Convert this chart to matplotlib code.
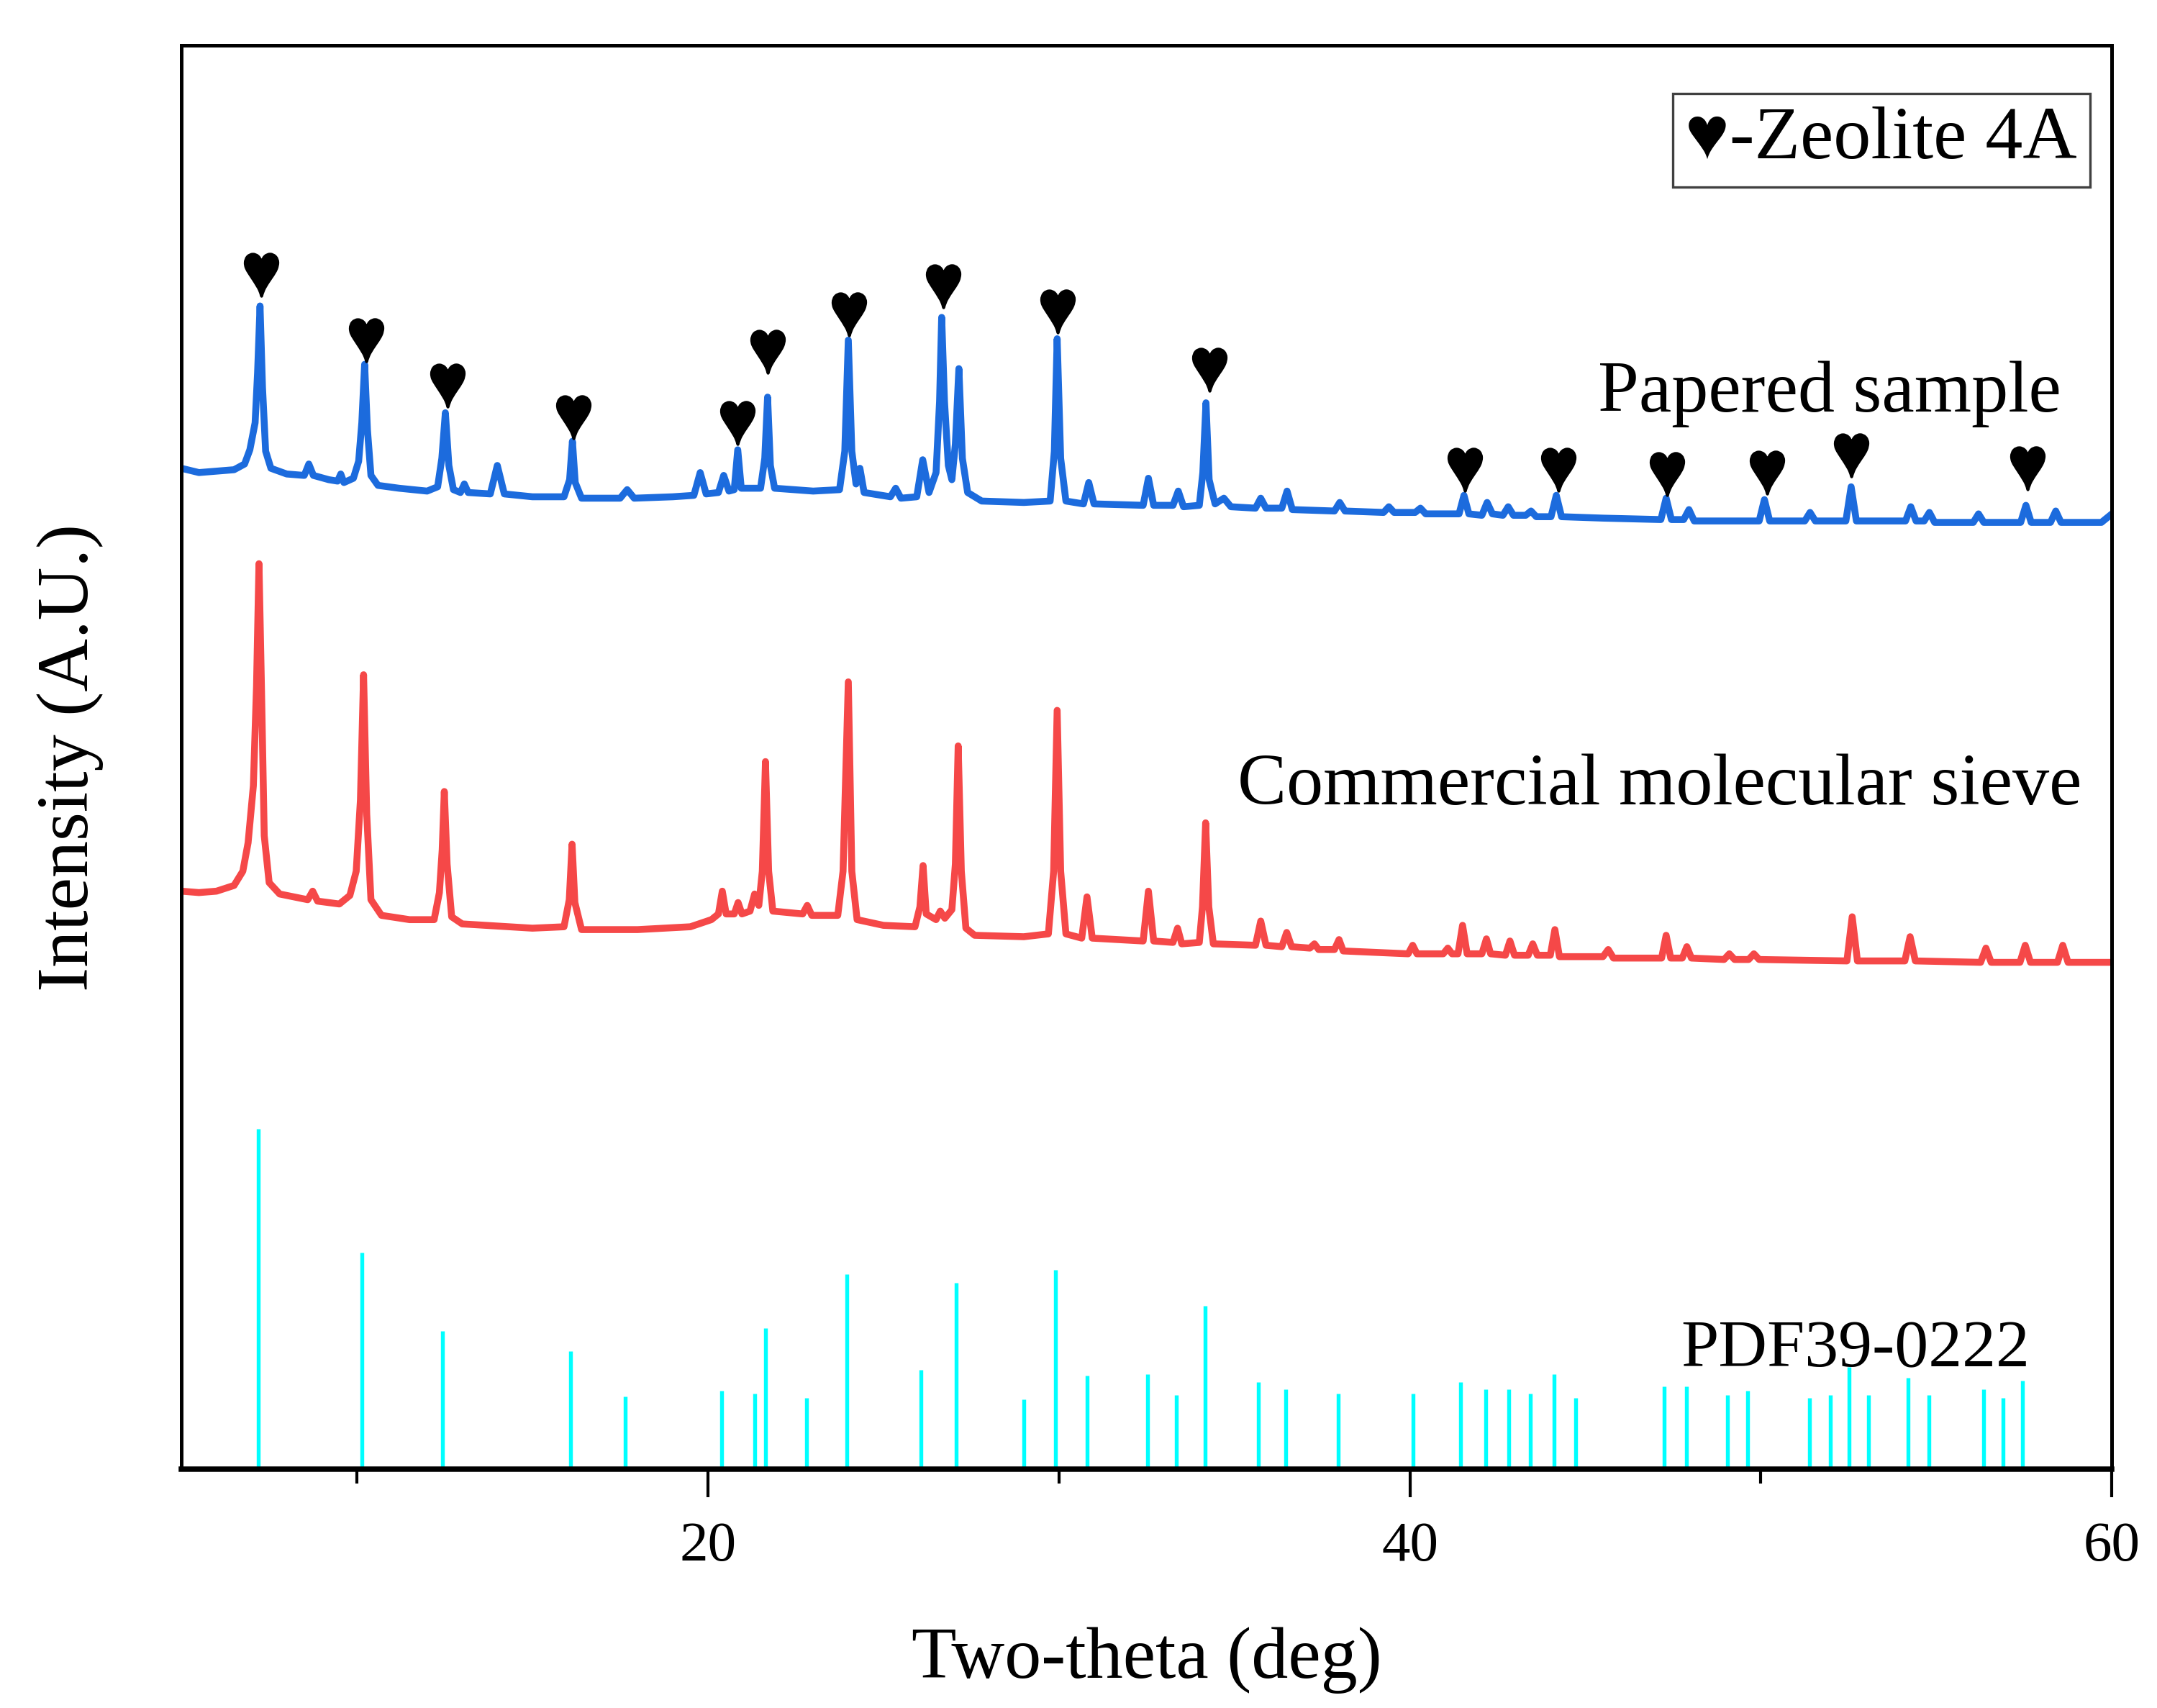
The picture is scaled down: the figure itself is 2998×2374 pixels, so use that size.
import matplotlib
matplotlib.use("Agg")
import matplotlib.pyplot as plt
from matplotlib.font_manager import FontProperties
from matplotlib.textpath import TextPath
from matplotlib.transforms import Affine2D

plt.rcParams["font.family"] = ["Liberation Serif", "DejaVu Sans"]

# -- Papered sample (blue), vertices --
paper_x = [5.0, 5.5, 6.0, 6.5, 6.8, 6.95, 7.1, 7.17, 7.24, 7.31, 7.4, 7.55, 8.0,
           8.5, 8.63, 8.76, 9.2, 9.45, 9.54, 9.63, 9.9, 10.05, 10.14, 10.22, 10.3, 10.4, 10.6,
           11.2, 12.0, 12.3, 12.42, 12.52, 12.62, 12.75, 12.95, 13.06, 13.17,
           13.8, 14.0, 14.2, 15.0, 15.9, 16.06, 16.14, 16.22, 16.4,
           17.5, 17.7, 17.9, 19.0, 19.6, 19.78, 19.95, 20.3, 20.45, 20.6, 20.75, 20.85, 20.95,
           21.5, 21.62, 21.7, 21.78, 21.9, 23.0, 23.75, 23.9, 24.0, 24.1, 24.22, 24.33, 24.45,
           25.2, 25.35, 25.5, 25.95, 26.12, 26.3, 26.5, 26.6, 26.66, 26.74, 26.85, 26.95, 27.05,
           27.15, 27.25, 27.4, 27.8, 29.0, 29.75, 29.87, 29.95, 30.05, 30.2, 30.7, 30.85, 31.0,
           32.4, 32.55, 32.7, 33.25, 33.4, 33.55, 34.0, 34.1, 34.19, 34.28, 34.45, 34.7, 34.9,
           35.6, 35.75, 35.9, 36.35, 36.5, 36.65, 37.85, 38.0, 38.15, 39.25, 39.4, 39.55,
           40.15, 40.3, 40.45, 41.4, 41.54, 41.68, 42.05, 42.2, 42.35, 42.65, 42.8, 42.95,
           43.3, 43.45, 43.6, 44.02, 44.17, 44.32, 45.5, 47.15, 47.3, 47.45, 47.8, 47.95, 48.1,
           49.95, 50.1, 50.25, 51.25, 51.4, 51.55, 52.42, 52.57, 52.72, 54.12, 54.27, 54.42,
           54.65, 54.8, 54.95, 56.05, 56.2, 56.35, 57.4, 57.55, 57.7, 58.25, 58.4, 58.55,
           59.7, 60.0]
paper_y = [70.3, 70.0, 70.1, 70.2, 70.6, 71.6, 73.5, 77.0, 81.7, 76.0, 71.5, 70.3, 69.9,
           69.8, 70.6, 69.8, 69.5, 69.4, 69.9, 69.3, 69.6, 70.8, 73.5, 77.6, 73.0, 69.8, 69.1,
           68.9, 68.7, 69.0, 71.0, 74.2, 70.5, 68.8, 68.6, 69.2, 68.6,
           68.5, 70.5, 68.5, 68.3, 68.3, 69.5, 72.2, 69.3, 68.2,
           68.2, 68.8, 68.2, 68.3, 68.4, 70.0, 68.5, 68.6, 69.8, 68.7, 68.8, 71.6, 68.9,
           68.9, 71.0, 75.3, 70.5, 68.9, 68.7, 68.8, 71.5, 79.3, 71.5, 69.2, 70.3, 68.6,
           68.3, 68.9, 68.2, 68.3, 70.9, 68.6, 70.0, 75.0, 80.9, 75.0, 70.5, 69.5, 72.0,
           77.3, 71.0, 68.6, 68.0, 67.9, 68.0, 71.5, 79.4, 71.0, 68.0, 67.8, 69.3, 67.8,
           67.7, 69.6, 67.7, 67.7, 68.7, 67.6, 67.7, 70.0, 74.9, 69.5, 67.8, 68.2, 67.6,
           67.5, 68.2, 67.5, 67.5, 68.7, 67.4, 67.3, 67.9, 67.3, 67.2, 67.6, 67.2,
           67.2, 67.5, 67.1, 67.1, 68.4, 67.1, 67.0, 67.9, 67.1, 67.0, 67.6, 67.0,
           67.0, 67.3, 66.9, 66.9, 68.4, 66.9, 66.8, 66.7, 68.2, 66.7, 66.7, 67.4, 66.6,
           66.6, 68.1, 66.6, 66.6, 67.2, 66.6, 66.6, 69.0, 66.6, 66.6, 67.6, 66.6,
           66.6, 67.2, 66.5, 66.5, 67.1, 66.5, 66.5, 67.7, 66.5, 66.5, 67.3, 66.5,
           66.5, 67.1]

# -- Commercial molecular sieve (red) --
sieve_x = [5.0, 5.5, 6.0, 6.5, 6.75, 6.9, 7.05, 7.14, 7.21, 7.28, 7.36, 7.5, 7.8,
           8.6, 8.74, 8.88, 9.5, 9.8, 9.98, 10.1, 10.19, 10.28, 10.4, 10.7, 11.5,
           12.2, 12.35, 12.43, 12.49, 12.57, 12.7, 13.0, 15.0, 15.9, 16.05, 16.13, 16.21, 16.4,
           18.0, 19.5, 20.1, 20.3, 20.41, 20.52, 20.75, 20.86, 20.97, 21.2, 21.33, 21.45,
           21.55, 21.64, 21.73, 21.85, 22.7, 22.83, 22.96, 23.7, 23.85, 24.0, 24.1, 24.25,
           25.0, 25.9, 26.04, 26.13, 26.22, 26.5, 26.62, 26.75, 26.95, 27.05, 27.13, 27.22,
           27.35, 27.6, 29.0, 29.7, 29.85, 29.95, 30.05, 30.2, 30.65, 30.8, 30.95,
           32.4, 32.55, 32.7, 33.25, 33.38, 33.5, 34.0, 34.09, 34.18, 34.27, 34.4,
           35.6, 35.75, 35.9, 36.35, 36.49, 36.63, 37.15, 37.28, 37.4, 37.85, 37.98, 38.1,
           39.95, 40.08, 40.2, 40.95, 41.08, 41.2, 41.37, 41.5, 41.63, 42.05, 42.18, 42.3,
           42.72, 42.85, 42.98, 43.37, 43.5, 43.63, 44.0, 44.13, 44.26, 45.5, 45.65, 45.8,
           47.17, 47.3, 47.43, 47.76, 47.89, 48.02, 48.95, 49.1, 49.25, 49.65, 49.8, 49.95,
           52.45, 52.6, 52.75, 54.1, 54.25, 54.4, 56.26, 56.41, 56.56, 57.38, 57.53, 57.68,
           58.45, 58.6, 58.75, 60.0]
sieve_y = [40.6, 40.5, 40.6, 41.0, 42.0, 44.0, 48.0, 55.0, 63.6, 55.0, 44.5, 41.2, 40.4,
           40.0, 40.6, 39.9, 39.7, 40.3, 42.0, 47.0, 55.8, 46.0, 40.0, 38.9, 38.6,
           38.6, 40.5, 43.5, 47.6, 42.5, 38.8, 38.3, 38.0, 38.1, 40.0, 43.9, 39.8, 37.9,
           37.9, 38.1, 38.6, 39.0, 40.6, 39.0, 39.0, 39.8, 39.0, 39.2, 40.4, 39.6,
           42.0, 49.7, 42.0, 39.2, 39.0, 39.6, 38.9, 38.9, 42.0, 55.3, 42.0, 38.6,
           38.2, 38.1, 39.5, 42.4, 39.0, 38.6, 39.2, 38.7, 39.3, 42.5, 50.8, 42.0,
           38.0, 37.5, 37.4, 37.6, 42.0, 53.3, 42.0, 37.6, 37.3, 40.2, 37.3,
           37.1, 40.6, 37.1, 37.0, 38.0, 36.9, 37.0, 39.5, 45.4, 39.5, 36.9,
           36.8, 38.5, 36.8, 36.7, 37.7, 36.7, 36.6, 36.9, 36.5, 36.5, 37.2, 36.4,
           36.2, 36.8, 36.2, 36.2, 36.6, 36.2, 36.2, 38.2, 36.2, 36.2, 37.25, 36.2,
           36.1, 37.1, 36.1, 36.1, 36.9, 36.1, 36.1, 37.9, 36.0, 36.0, 36.5, 35.9,
           35.9, 37.5, 35.9, 35.9, 36.7, 35.9, 35.8, 36.2, 35.8, 35.8, 36.2, 35.8,
           35.7, 38.8, 35.7, 35.7, 37.4, 35.7, 35.6, 36.6, 35.6, 35.6, 36.8, 35.6,
           35.6, 36.8, 35.6, 35.6]

# -- Reference card PDF39-0222 --
pdf_pos = [7.20, 10.14, 12.44, 16.08, 17.65, 20.39, 21.33, 21.64, 22.81, 23.95, 26.06,
           27.08, 29.00, 29.90, 30.80, 32.52, 33.35, 34.17, 35.69, 36.47, 37.96, 40.08,
           41.44, 42.15, 42.82, 43.44, 44.11, 44.73, 47.24, 47.87, 49.04, 49.63, 51.38,
           51.97, 52.52, 53.07, 54.20, 54.79, 56.35, 56.90, 57.45]
pdf_int = [23.9, 15.2, 9.7, 8.3, 5.1, 5.5, 5.3, 9.9, 5.0, 13.7, 7.0,
           13.1, 4.9, 14.0, 6.6, 6.7, 5.2, 11.5, 6.1, 5.6, 5.3, 5.3,
           6.1, 5.6, 5.6, 5.3, 6.7, 5.0, 5.8, 5.8, 5.2, 5.5, 5.0,
           5.2, 7.2, 5.2, 6.4, 5.2, 5.6, 5.0, 6.2]

# -- Zeolite 4A markers (heart centres) --
heart_x = [7.28, 10.26, 12.58, 16.16, 20.85, 21.71, 24.02, 26.70, 29.97, 34.28,
           41.56, 44.22, 47.33, 50.18, 52.57, 57.60]
heart_y = [83.9, 79.3, 76.1, 73.9, 73.5, 78.5, 81.1, 83.1, 81.3, 77.2,
           70.2, 70.2, 69.9, 70.0, 71.2, 70.3]

# heart glyph as a marker path (serif heart, slightly taller than wide)
hp = TextPath((0, 0), "\u2665", size=1,
              prop=FontProperties(family=["Liberation Serif", "DejaVu Sans"]))
ext = hp.get_extents()
heart = hp.transformed(Affine2D().translate(-(ext.x0 + ext.x1) / 2,
                                            -(ext.y0 + ext.y1) / 2).scale(1, 1.12))

fig = plt.figure(figsize=(2998 / 300, 2374 / 300), dpi=300)
ax = fig.add_axes([0.0841, 0.1398, 0.8950, 0.8336])

ax.plot(paper_x, paper_y, color="#1C6BDD", lw=2.3, solid_joinstyle="round")
ax.plot(sieve_x, sieve_y, color="#F54848", lw=2.3, solid_joinstyle="round")
ax.vlines(pdf_pos, 0, pdf_int, color="#00FFFF", lw=1.3)
ax.plot(heart_x, heart_y, ls="none", marker=heart, ms=14, color="black")

ax.text(58.55, 74.3, "Papered sample", ha="right", va="baseline", fontsize=24.5)
ax.text(59.15, 46.7, "Commercial molecular sieve", ha="right", va="baseline", fontsize=24.5)
ax.text(57.65, 7.2, "PDF39-0222", ha="right", va="baseline", fontsize=22.5)

ax.text(0.982, 0.9208, "\u2665-Zeolite 4A", transform=ax.transAxes, ha="right",
        va="baseline", fontsize=25,
        bbox=dict(boxstyle="square,pad=0.17", fc="white", ec="#404040", lw=0.8))

ax.set_xlim(5, 60)
ax.set_ylim(0, 100)
ax.set_xticks([20, 40, 60])
ax.set_xticks([10, 30, 50], minor=True)
ax.set_yticks([])
ax.tick_params(axis="x", which="major", direction="out", length=9.4, width=1.0,
               labelsize=19, pad=8)
ax.tick_params(axis="x", which="minor", direction="out", length=4.8, width=1.0)
for side in ["left", "top", "right"]:
    ax.spines[side].set_linewidth(1.2)
ax.spines["bottom"].set_linewidth(1.8)

ax.set_xlabel("Two-theta (deg)", fontsize=24.5, labelpad=18)
ax.set_ylabel("Intensity (A.U.)", fontsize=24.5, labelpad=26)

fig.savefig("out.png", dpi=300)
